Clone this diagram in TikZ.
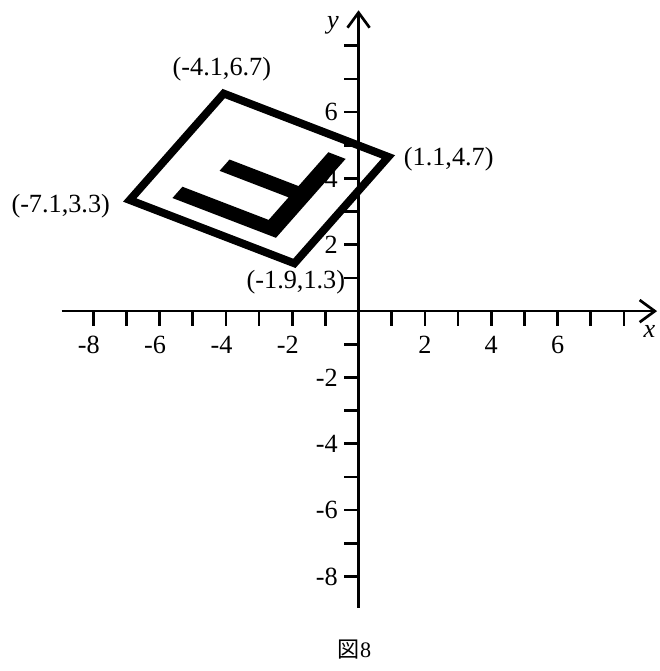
\documentclass[tikz,border=0pt]{standalone}
\usepackage{fontspec}
\setmainfont{Liberation Serif}
\newfontfamily\cjk{Noto Sans CJK JP}
\usetikzlibrary{arrows.meta}
\begin{document}
\begin{tikzpicture}[
  axisline/.style={line width=2.3pt, -{Straight Barb[length=13pt,width=19pt]}},
  tickmark/.style={line width=2.3pt},
  lbl/.style={font=\fontsize{22.5}{26}\selectfont, inner sep=0pt},
  capt/.style={font=\fontsize{19}{22}\selectfont, inner sep=0pt},
]
\useasboundingbox (-10.81,-10.85) rectangle (9.06,9.38);
% axes
\coordinate (xs) at (-8.95,0);
\coordinate (xe) at (9.0,0);
\coordinate (ys) at (0,-8.95);
\coordinate (ye) at (0,9.07);
\draw[axisline] (xs) -- (xe);
\draw[axisline] (ys) -- (ye);
% ticks
\foreach \i in {-8,...,-1,1,2,...,8} {
  \draw[tickmark] (\i,0) -- (\i,-0.45);
  \draw[tickmark] (0,\i) -- (-0.45,\i);
}
% tick labels
\foreach \i in {2,4,6} {
  \node[lbl, anchor=base] (xp\i) at (\i,-1.27) {\i};
  \node[lbl, anchor=east] (yp\i) at (-0.62,\i) {\i};
}
\foreach \i in {2,4,6,8} {
  \node[lbl, anchor=base] (xn\i) at (-\i,-1.27) {\llap{-}\i};
  \node[lbl, anchor=east] (yn\i) at (-0.62,-\i) {-\i};
}
\node[lbl, anchor=base] (xlab) at (8.77,-0.81) {\itshape x};
\node[lbl, anchor=base] (ylab) at (-0.77,8.53) {\itshape y};
% parallelogram
\coordinate (A) at (-4.1,6.7);
\coordinate (R) at (1.1,4.7);
\coordinate (B) at (-1.9,1.3);
\coordinate (L) at (-7.1,3.3);
\begin{scope}
  \clip (A) -- (R) -- (B) -- (L) -- cycle;
  \draw[line width=13.5pt, line join=miter] (A) -- (R) -- (B) -- (L) -- cycle;
\end{scope}
% inner letter
\begin{scope}[shift={(B)}, x={(-5.2cm,2cm)}, y={(3cm,3.4cm)}]
  \fill (0.2,0.15) -- (0.8,0.15) -- (0.8,0.25) -- (0.3,0.25) -- (0.3,0.45)
     -- (0.7,0.45) -- (0.7,0.55) -- (0.3,0.55) -- (0.3,0.85) -- (0.2,0.85) -- cycle;
\end{scope}
% vertex labels
\node[lbl, anchor=base] (lA) at (-4.12,7.09) {(-4.1,6.7)};
\node[lbl, anchor=base] (lR) at (2.72,4.40) {(1.1,4.7)};
\node[lbl, anchor=base] (lL) at (-8.98,2.98) {(-7.1,3.3)};
\node[lbl, anchor=base] (lB) at (-1.89,0.67) {(-1.9,1.3)};
% caption
\node[capt, anchor=base] (cap) at (-0.12,-10.45) {{\cjk 図}8};
\end{tikzpicture}
\end{document}
